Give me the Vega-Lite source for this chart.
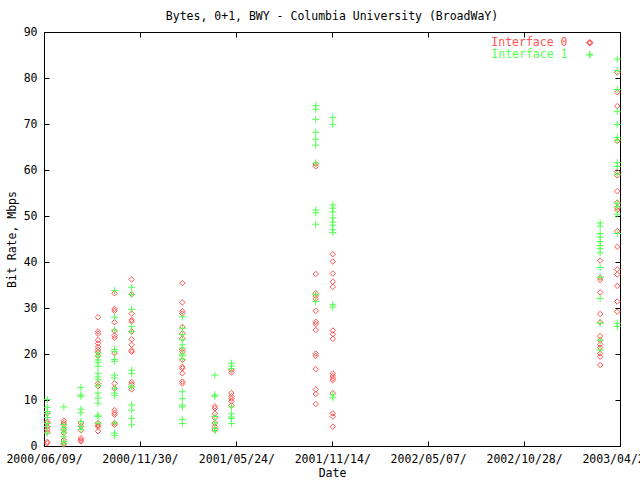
{
  "$schema": "https://vega.github.io/schema/vega-lite/v6.json",
  "autosize": {"type": "none"},
  "padding": {"left": 44, "top": 32, "right": 20, "bottom": 34},
  "width": 576,
  "height": 414,
  "background": "white",
  "config": {
    "view": {"stroke": "black", "strokeWidth": 1},
    "font": "DejaVu Sans Mono",
    "axis": {"labelFont": "DejaVu Sans Mono", "labelFontSize": 11.5, "labelColor": "black", "titleFont": "DejaVu Sans Mono", "titleFontSize": 11.5, "titleFontWeight": "normal", "titleColor": "black", "domainColor": "black", "tickColor": "black", "grid": false, "tickSize": -5, "labelPadding": 12},
    "legend": {"title": null, "orient": "none", "legendX": 540, "legendY": 5, "padding": 0, "rowPadding": -1, "labelFont": "DejaVu Sans Mono", "labelFontSize": 11.5, "labelLimit": 300, "labelAlign": "right", "labelOffset": -28}
  },
  "title": {"text": "Bytes, 0+1, BWY - Columbia University (BroadWaY)", "font": "DejaVu Sans Mono", "fontSize": 11.5, "fontWeight": "normal", "color": "black", "anchor": "middle", "offset": 4},
  "datasets": {
    "pts": [
      {"d":"2000-06-15","s":"Interface 0","v":0.6},{"d":"2000-06-15","s":"Interface 0","v":0.9},{"d":"2000-06-15","s":"Interface 0","v":3.0},{"d":"2000-06-15","s":"Interface 0","v":3.6},{"d":"2000-06-15","s":"Interface 0","v":5.0},{"d":"2000-06-15","s":"Interface 0","v":5.3},{"d":"2000-06-15","s":"Interface 0","v":7.1},{"d":"2000-06-15","s":"Interface 0","v":4.2},
      {"d":"2000-07-15","s":"Interface 0","v":5.5},{"d":"2000-07-15","s":"Interface 0","v":5.0},{"d":"2000-07-15","s":"Interface 0","v":4.6},{"d":"2000-07-15","s":"Interface 0","v":3.6},{"d":"2000-07-15","s":"Interface 0","v":2.8},{"d":"2000-07-15","s":"Interface 0","v":1.3},{"d":"2000-07-15","s":"Interface 0","v":0.6},{"d":"2000-07-15","s":"Interface 0","v":0.3},
      {"d":"2000-08-15","s":"Interface 0","v":5.0},{"d":"2000-08-15","s":"Interface 0","v":4.3},{"d":"2000-08-15","s":"Interface 0","v":3.4},{"d":"2000-08-15","s":"Interface 0","v":1.7},{"d":"2000-08-15","s":"Interface 0","v":1.3},{"d":"2000-08-15","s":"Interface 0","v":1.0},
      {"d":"2000-09-15","s":"Interface 0","v":28.0},{"d":"2000-09-15","s":"Interface 0","v":24.9},{"d":"2000-09-15","s":"Interface 0","v":24.4},{"d":"2000-09-15","s":"Interface 0","v":23.0},{"d":"2000-09-15","s":"Interface 0","v":22.3},{"d":"2000-09-15","s":"Interface 0","v":21.5},{"d":"2000-09-15","s":"Interface 0","v":20.9},{"d":"2000-09-15","s":"Interface 0","v":20.4},{"d":"2000-09-15","s":"Interface 0","v":19.6},{"d":"2000-09-15","s":"Interface 0","v":13.6},{"d":"2000-09-15","s":"Interface 0","v":13.0},{"d":"2000-09-15","s":"Interface 0","v":5.0},{"d":"2000-09-15","s":"Interface 0","v":4.5},{"d":"2000-09-15","s":"Interface 0","v":4.2},{"d":"2000-09-15","s":"Interface 0","v":3.2},
      {"d":"2000-10-15","s":"Interface 0","v":33.2},{"d":"2000-10-15","s":"Interface 0","v":29.8},{"d":"2000-10-15","s":"Interface 0","v":29.4},{"d":"2000-10-15","s":"Interface 0","v":26.9},{"d":"2000-10-15","s":"Interface 0","v":25.0},{"d":"2000-10-15","s":"Interface 0","v":24.0},{"d":"2000-10-15","s":"Interface 0","v":23.5},{"d":"2000-10-15","s":"Interface 0","v":20.2},{"d":"2000-10-15","s":"Interface 0","v":13.6},{"d":"2000-10-15","s":"Interface 0","v":12.5},{"d":"2000-10-15","s":"Interface 0","v":7.8},{"d":"2000-10-15","s":"Interface 0","v":7.2},{"d":"2000-10-15","s":"Interface 0","v":6.8},{"d":"2000-10-15","s":"Interface 0","v":5.0},{"d":"2000-10-15","s":"Interface 0","v":4.6},
      {"d":"2000-11-15","s":"Interface 0","v":36.2},{"d":"2000-11-15","s":"Interface 0","v":33.0},{"d":"2000-11-15","s":"Interface 0","v":28.8},{"d":"2000-11-15","s":"Interface 0","v":27.4},{"d":"2000-11-15","s":"Interface 0","v":27.1},{"d":"2000-11-15","s":"Interface 0","v":24.9},{"d":"2000-11-15","s":"Interface 0","v":23.2},{"d":"2000-11-15","s":"Interface 0","v":22.0},{"d":"2000-11-15","s":"Interface 0","v":20.8},{"d":"2000-11-15","s":"Interface 0","v":20.5},{"d":"2000-11-15","s":"Interface 0","v":13.9},{"d":"2000-11-15","s":"Interface 0","v":13.4},{"d":"2000-11-15","s":"Interface 0","v":12.3},
      {"d":"2001-02-15","s":"Interface 0","v":35.4},{"d":"2001-02-15","s":"Interface 0","v":31.2},{"d":"2001-02-15","s":"Interface 0","v":29.3},{"d":"2001-02-15","s":"Interface 0","v":28.8},{"d":"2001-02-15","s":"Interface 0","v":25.9},{"d":"2001-02-15","s":"Interface 0","v":24.5},{"d":"2001-02-15","s":"Interface 0","v":23.4},{"d":"2001-02-15","s":"Interface 0","v":21.0},{"d":"2001-02-15","s":"Interface 0","v":20.5},{"d":"2001-02-15","s":"Interface 0","v":18.7},{"d":"2001-02-15","s":"Interface 0","v":17.2},{"d":"2001-02-15","s":"Interface 0","v":16.9},{"d":"2001-02-15","s":"Interface 0","v":15.8},{"d":"2001-02-15","s":"Interface 0","v":14.0},{"d":"2001-02-15","s":"Interface 0","v":13.6},
      {"d":"2001-04-15","s":"Interface 0","v":8.6},{"d":"2001-04-15","s":"Interface 0","v":8.2},{"d":"2001-04-15","s":"Interface 0","v":7.0},{"d":"2001-04-15","s":"Interface 0","v":6.1},{"d":"2001-04-15","s":"Interface 0","v":5.0},{"d":"2001-04-15","s":"Interface 0","v":4.2},{"d":"2001-04-15","s":"Interface 0","v":3.5},
      {"d":"2001-05-15","s":"Interface 0","v":16.5},{"d":"2001-05-15","s":"Interface 0","v":16.0},{"d":"2001-05-15","s":"Interface 0","v":11.5},{"d":"2001-05-15","s":"Interface 0","v":10.8},{"d":"2001-05-15","s":"Interface 0","v":10.3},{"d":"2001-05-15","s":"Interface 0","v":9.7},{"d":"2001-05-15","s":"Interface 0","v":8.8},
      {"d":"2001-10-15","s":"Interface 0","v":61.3},{"d":"2001-10-15","s":"Interface 0","v":60.8},{"d":"2001-10-15","s":"Interface 0","v":37.4},{"d":"2001-10-15","s":"Interface 0","v":33.2},{"d":"2001-10-15","s":"Interface 0","v":32.6},{"d":"2001-10-15","s":"Interface 0","v":32.0},{"d":"2001-10-15","s":"Interface 0","v":29.4},{"d":"2001-10-15","s":"Interface 0","v":27.0},{"d":"2001-10-15","s":"Interface 0","v":26.5},{"d":"2001-10-15","s":"Interface 0","v":25.2},{"d":"2001-10-15","s":"Interface 0","v":20.1},{"d":"2001-10-15","s":"Interface 0","v":19.6},{"d":"2001-10-15","s":"Interface 0","v":16.7},{"d":"2001-10-15","s":"Interface 0","v":12.3},{"d":"2001-10-15","s":"Interface 0","v":11.3},{"d":"2001-10-15","s":"Interface 0","v":9.1},
      {"d":"2001-11-15","s":"Interface 0","v":41.7},{"d":"2001-11-15","s":"Interface 0","v":40.1},{"d":"2001-11-15","s":"Interface 0","v":37.5},{"d":"2001-11-15","s":"Interface 0","v":35.7},{"d":"2001-11-15","s":"Interface 0","v":34.6},{"d":"2001-11-15","s":"Interface 0","v":25.1},{"d":"2001-11-15","s":"Interface 0","v":24.3},{"d":"2001-11-15","s":"Interface 0","v":23.3},{"d":"2001-11-15","s":"Interface 0","v":15.8},{"d":"2001-11-15","s":"Interface 0","v":15.2},{"d":"2001-11-15","s":"Interface 0","v":14.7},{"d":"2001-11-15","s":"Interface 0","v":14.3},{"d":"2001-11-15","s":"Interface 0","v":11.5},{"d":"2001-11-15","s":"Interface 0","v":7.1},{"d":"2001-11-15","s":"Interface 0","v":6.4},{"d":"2001-11-15","s":"Interface 0","v":4.2},
      {"d":"2003-03-15","s":"Interface 0","v":40.3},{"d":"2003-03-15","s":"Interface 0","v":36.6},{"d":"2003-03-15","s":"Interface 0","v":36.1},{"d":"2003-03-15","s":"Interface 0","v":33.4},{"d":"2003-03-15","s":"Interface 0","v":28.7},{"d":"2003-03-15","s":"Interface 0","v":26.9},{"d":"2003-03-15","s":"Interface 0","v":23.9},{"d":"2003-03-15","s":"Interface 0","v":23.0},{"d":"2003-03-15","s":"Interface 0","v":22.1},{"d":"2003-03-15","s":"Interface 0","v":21.4},{"d":"2003-03-15","s":"Interface 0","v":20.1},{"d":"2003-03-15","s":"Interface 0","v":19.4},{"d":"2003-03-15","s":"Interface 0","v":17.6},
      {"d":"2003-04-15","s":"Interface 0","v":81.2},{"d":"2003-04-15","s":"Interface 0","v":76.9},{"d":"2003-04-15","s":"Interface 0","v":73.9},{"d":"2003-04-15","s":"Interface 0","v":66.3},{"d":"2003-04-15","s":"Interface 0","v":59.6},{"d":"2003-04-15","s":"Interface 0","v":58.8},{"d":"2003-04-15","s":"Interface 0","v":55.4},{"d":"2003-04-15","s":"Interface 0","v":52.9},{"d":"2003-04-15","s":"Interface 0","v":51.8},{"d":"2003-04-15","s":"Interface 0","v":51.3},{"d":"2003-04-15","s":"Interface 0","v":46.7},{"d":"2003-04-15","s":"Interface 0","v":43.3},{"d":"2003-04-15","s":"Interface 0","v":38.4},{"d":"2003-04-15","s":"Interface 0","v":37.3},{"d":"2003-04-15","s":"Interface 0","v":34.8},{"d":"2003-04-15","s":"Interface 0","v":31.4},{"d":"2003-04-15","s":"Interface 0","v":29.2},
      {"d":"2000-06-15","s":"Interface 1","v":10.1},{"d":"2000-06-15","s":"Interface 1","v":8.4},{"d":"2000-06-15","s":"Interface 1","v":7.5},{"d":"2000-06-15","s":"Interface 1","v":7.0},{"d":"2000-06-15","s":"Interface 1","v":6.2},{"d":"2000-06-15","s":"Interface 1","v":4.9},{"d":"2000-06-15","s":"Interface 1","v":4.2},{"d":"2000-06-15","s":"Interface 1","v":2.8},
      {"d":"2000-07-15","s":"Interface 1","v":8.5},{"d":"2000-07-15","s":"Interface 1","v":4.7},{"d":"2000-07-15","s":"Interface 1","v":4.0},{"d":"2000-07-15","s":"Interface 1","v":3.5},{"d":"2000-07-15","s":"Interface 1","v":3.0},{"d":"2000-07-15","s":"Interface 1","v":2.0},{"d":"2000-07-15","s":"Interface 1","v":1.0},{"d":"2000-07-15","s":"Interface 1","v":0.5},
      {"d":"2000-08-15","s":"Interface 1","v":12.7},{"d":"2000-08-15","s":"Interface 1","v":11.1},{"d":"2000-08-15","s":"Interface 1","v":10.8},{"d":"2000-08-15","s":"Interface 1","v":8.0},{"d":"2000-08-15","s":"Interface 1","v":7.2},{"d":"2000-08-15","s":"Interface 1","v":5.3},{"d":"2000-08-15","s":"Interface 1","v":4.2},{"d":"2000-08-15","s":"Interface 1","v":3.6},
      {"d":"2000-09-15","s":"Interface 1","v":20.2},{"d":"2000-09-15","s":"Interface 1","v":19.5},{"d":"2000-09-15","s":"Interface 1","v":18.7},{"d":"2000-09-15","s":"Interface 1","v":18.2},{"d":"2000-09-15","s":"Interface 1","v":17.3},{"d":"2000-09-15","s":"Interface 1","v":15.8},{"d":"2000-09-15","s":"Interface 1","v":15.0},{"d":"2000-09-15","s":"Interface 1","v":14.4},{"d":"2000-09-15","s":"Interface 1","v":13.1},{"d":"2000-09-15","s":"Interface 1","v":11.5},{"d":"2000-09-15","s":"Interface 1","v":10.4},{"d":"2000-09-15","s":"Interface 1","v":9.3},{"d":"2000-09-15","s":"Interface 1","v":6.7},{"d":"2000-09-15","s":"Interface 1","v":6.4},{"d":"2000-09-15","s":"Interface 1","v":4.9},
      {"d":"2000-10-15","s":"Interface 1","v":33.8},{"d":"2000-10-15","s":"Interface 1","v":28.0},{"d":"2000-10-15","s":"Interface 1","v":25.2},{"d":"2000-10-15","s":"Interface 1","v":21.0},{"d":"2000-10-15","s":"Interface 1","v":20.5},{"d":"2000-10-15","s":"Interface 1","v":18.8},{"d":"2000-10-15","s":"Interface 1","v":18.4},{"d":"2000-10-15","s":"Interface 1","v":15.4},{"d":"2000-10-15","s":"Interface 1","v":14.8},{"d":"2000-10-15","s":"Interface 1","v":12.5},{"d":"2000-10-15","s":"Interface 1","v":11.5},{"d":"2000-10-15","s":"Interface 1","v":11.0},{"d":"2000-10-15","s":"Interface 1","v":5.0},{"d":"2000-10-15","s":"Interface 1","v":2.8},{"d":"2000-10-15","s":"Interface 1","v":2.3},
      {"d":"2000-11-15","s":"Interface 1","v":34.5},{"d":"2000-11-15","s":"Interface 1","v":32.9},{"d":"2000-11-15","s":"Interface 1","v":29.7},{"d":"2000-11-15","s":"Interface 1","v":26.0},{"d":"2000-11-15","s":"Interface 1","v":24.9},{"d":"2000-11-15","s":"Interface 1","v":16.5},{"d":"2000-11-15","s":"Interface 1","v":15.8},{"d":"2000-11-15","s":"Interface 1","v":13.0},{"d":"2000-11-15","s":"Interface 1","v":12.8},{"d":"2000-11-15","s":"Interface 1","v":8.9},{"d":"2000-11-15","s":"Interface 1","v":7.8},{"d":"2000-11-15","s":"Interface 1","v":6.0},{"d":"2000-11-15","s":"Interface 1","v":4.6},
      {"d":"2001-02-15","s":"Interface 1","v":28.1},{"d":"2001-02-15","s":"Interface 1","v":25.6},{"d":"2001-02-15","s":"Interface 1","v":24.2},{"d":"2001-02-15","s":"Interface 1","v":23.1},{"d":"2001-02-15","s":"Interface 1","v":22.0},{"d":"2001-02-15","s":"Interface 1","v":21.3},{"d":"2001-02-15","s":"Interface 1","v":20.0},{"d":"2001-02-15","s":"Interface 1","v":19.6},{"d":"2001-02-15","s":"Interface 1","v":18.9},{"d":"2001-02-15","s":"Interface 1","v":11.8},{"d":"2001-02-15","s":"Interface 1","v":10.3},{"d":"2001-02-15","s":"Interface 1","v":8.9},{"d":"2001-02-15","s":"Interface 1","v":8.5},{"d":"2001-02-15","s":"Interface 1","v":5.8},{"d":"2001-02-15","s":"Interface 1","v":4.9},
      {"d":"2001-04-15","s":"Interface 1","v":15.4},{"d":"2001-04-15","s":"Interface 1","v":11.1},{"d":"2001-04-15","s":"Interface 1","v":10.8},{"d":"2001-04-15","s":"Interface 1","v":6.4},{"d":"2001-04-15","s":"Interface 1","v":5.0},{"d":"2001-04-15","s":"Interface 1","v":3.8},{"d":"2001-04-15","s":"Interface 1","v":3.3},
      {"d":"2001-05-15","s":"Interface 1","v":18.0},{"d":"2001-05-15","s":"Interface 1","v":17.4},{"d":"2001-05-15","s":"Interface 1","v":16.8},{"d":"2001-05-15","s":"Interface 1","v":8.5},{"d":"2001-05-15","s":"Interface 1","v":7.0},{"d":"2001-05-15","s":"Interface 1","v":6.3},{"d":"2001-05-15","s":"Interface 1","v":6.0},{"d":"2001-05-15","s":"Interface 1","v":4.9},
      {"d":"2001-10-15","s":"Interface 1","v":74.0},{"d":"2001-10-15","s":"Interface 1","v":73.2},{"d":"2001-10-15","s":"Interface 1","v":71.0},{"d":"2001-10-15","s":"Interface 1","v":68.2},{"d":"2001-10-15","s":"Interface 1","v":66.7},{"d":"2001-10-15","s":"Interface 1","v":65.4},{"d":"2001-10-15","s":"Interface 1","v":61.5},{"d":"2001-10-15","s":"Interface 1","v":51.3},{"d":"2001-10-15","s":"Interface 1","v":50.7},{"d":"2001-10-15","s":"Interface 1","v":48.2},{"d":"2001-10-15","s":"Interface 1","v":32.9},{"d":"2001-10-15","s":"Interface 1","v":31.4},
      {"d":"2001-11-15","s":"Interface 1","v":71.4},{"d":"2001-11-15","s":"Interface 1","v":69.9},{"d":"2001-11-15","s":"Interface 1","v":52.4},{"d":"2001-11-15","s":"Interface 1","v":51.7},{"d":"2001-11-15","s":"Interface 1","v":50.9},{"d":"2001-11-15","s":"Interface 1","v":49.6},{"d":"2001-11-15","s":"Interface 1","v":48.7},{"d":"2001-11-15","s":"Interface 1","v":48.0},{"d":"2001-11-15","s":"Interface 1","v":47.0},{"d":"2001-11-15","s":"Interface 1","v":46.4},{"d":"2001-11-15","s":"Interface 1","v":30.7},{"d":"2001-11-15","s":"Interface 1","v":30.2},{"d":"2001-11-15","s":"Interface 1","v":11.1},{"d":"2001-11-15","s":"Interface 1","v":10.5},
      {"d":"2003-03-15","s":"Interface 1","v":48.5},{"d":"2003-03-15","s":"Interface 1","v":47.8},{"d":"2003-03-15","s":"Interface 1","v":46.2},{"d":"2003-03-15","s":"Interface 1","v":45.4},{"d":"2003-03-15","s":"Interface 1","v":44.4},{"d":"2003-03-15","s":"Interface 1","v":43.6},{"d":"2003-03-15","s":"Interface 1","v":42.9},{"d":"2003-03-15","s":"Interface 1","v":42.0},{"d":"2003-03-15","s":"Interface 1","v":38.8},{"d":"2003-03-15","s":"Interface 1","v":36.7},{"d":"2003-03-15","s":"Interface 1","v":32.1},{"d":"2003-03-15","s":"Interface 1","v":26.7},{"d":"2003-03-15","s":"Interface 1","v":23.0},{"d":"2003-03-15","s":"Interface 1","v":20.9},
      {"d":"2003-04-15","s":"Interface 1","v":84.1},{"d":"2003-04-15","s":"Interface 1","v":81.6},{"d":"2003-04-15","s":"Interface 1","v":77.5},{"d":"2003-04-15","s":"Interface 1","v":72.7},{"d":"2003-04-15","s":"Interface 1","v":69.9},{"d":"2003-04-15","s":"Interface 1","v":67.1},{"d":"2003-04-15","s":"Interface 1","v":66.5},{"d":"2003-04-15","s":"Interface 1","v":61.6},{"d":"2003-04-15","s":"Interface 1","v":60.8},{"d":"2003-04-15","s":"Interface 1","v":59.1},{"d":"2003-04-15","s":"Interface 1","v":52.8},{"d":"2003-04-15","s":"Interface 1","v":52.0},{"d":"2003-04-15","s":"Interface 1","v":50.4},{"d":"2003-04-15","s":"Interface 1","v":46.2},{"d":"2003-04-15","s":"Interface 1","v":26.7},{"d":"2003-04-15","s":"Interface 1","v":26.0}
    ]
  },
  "layer": [
    {
      "data": {"name": "pts"},
      "mark": {"type": "point", "filled": false, "strokeWidth": 1, "opacity": 1},
      "encoding": {
        "x": {"field": "d", "type": "temporal",
          "scale": {"type": "utc", "domain": [{"year": 2000, "month": 6, "date": 9, "utc": true}, {"year": 2003, "month": 4, "date": 20, "utc": true}]},
          "axis": {"title": "Date", "format": "%Y/%m/%d/", "titlePadding": 3,
            "values": [{"year": 2000, "month": 6, "date": 9, "utc": true}, {"year": 2000, "month": 11, "date": 30, "utc": true}, {"year": 2001, "month": 5, "date": 24, "utc": true}, {"year": 2001, "month": 11, "date": 14, "utc": true}, {"year": 2002, "month": 5, "date": 7, "utc": true}, {"year": 2002, "month": 10, "date": 28, "utc": true}, {"year": 2003, "month": 4, "date": 20, "utc": true}],
            "labelFlush": false, "labelOverlap": false}},
        "y": {"field": "v", "type": "quantitative",
          "scale": {"domain": [0, 90], "nice": false, "zero": true},
          "axis": {"title": "Bit Rate, Mbps", "values": [0, 10, 20, 30, 40, 50, 60, 70, 80, 90], "titlePadding": 6}},
        "color": {"field": "s", "type": "nominal",
          "scale": {"domain": ["Interface 0", "Interface 1"], "range": ["#ff5555", "#55ff55"]},
          "legend": {"title": null, "labelColor": {"expr": "datum.value === 'Interface 0' ? '#ff5555' : '#55ff55'"}}},
        "shape": {"field": "s", "type": "nominal",
          "scale": {"domain": ["Interface 0", "Interface 1"], "range": ["diamond", "M-1,0L1,0M0,-1L0,1"]},
          "legend": {"title": null, "labelColor": {"expr": "datum.value === 'Interface 0' ? '#ff5555' : '#55ff55'"}}},
        "size": {"field": "s", "type": "nominal",
          "scale": {"domain": ["Interface 0", "Interface 1"], "range": [30, 49]},
          "legend": {"title": null, "labelColor": {"expr": "datum.value === 'Interface 0' ? '#ff5555' : '#55ff55'"}}}
      }
    },
    {
      "data": {"values": [{"d": "2001-06-01", "v": 10}]},
      "mark": {"type": "point", "opacity": 0},
      "encoding": {
        "x": {"field": "d", "type": "temporal", "axis": {"orient": "top", "labels": false, "title": null, "values": [{"year": 2000, "month": 6, "date": 9, "utc": true}, {"year": 2000, "month": 11, "date": 30, "utc": true}, {"year": 2001, "month": 5, "date": 24, "utc": true}, {"year": 2001, "month": 11, "date": 14, "utc": true}, {"year": 2002, "month": 5, "date": 7, "utc": true}, {"year": 2002, "month": 10, "date": 28, "utc": true}, {"year": 2003, "month": 4, "date": 20, "utc": true}]}},
        "y": {"field": "v", "type": "quantitative", "axis": {"orient": "right", "labels": false, "title": null, "values": [0, 10, 20, 30, 40, 50, 60, 70, 80, 90]}}
      }
    }
  ],
  "resolve": {"axis": {"x": "independent", "y": "independent"}}
}
